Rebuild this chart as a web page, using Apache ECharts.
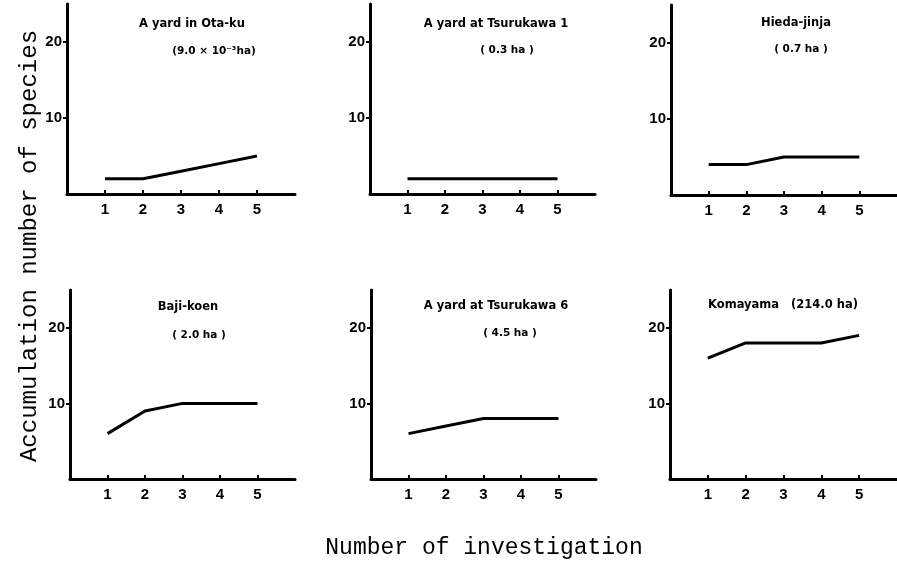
<!DOCTYPE html>
<html>
<head>
<meta charset="utf-8">
<script src="https://cdn.jsdelivr.net/npm/echarts@6/dist/echarts.min.js"></script>
<style>html,body{margin:0;padding:0;background:#fff;}#c{width:897px;height:565px;}</style>
</head>
<body>
<div id="c"></div>
<script>
// ---- data ----
const investigations = [1, 2, 3, 4, 5];
const xTickLabels = ['1', '2', '3', '4', '5'];
const yTickValues = [10, 20];
const otaku = [2, 2, 3, 4, 5];
const tsurukawa1 = [2, 2, 2, 2, 2];
const hiedaJinja = [4, 4, 5, 5, 5];
const bajiKoen = [6, 9, 10, 10, 10];
const tsurukawa6 = [6, 7, 8, 8, 8];
const komayama = [16, 18, 18, 18, 19];
const panelNames = ['A yard in Ota-ku', 'A yard at Tsurukawa 1', 'Hieda-jinja', 'Baji-koen', 'A yard at Tsurukawa 6', 'Komayama   (214.0 ha)'];
const panelAreas = ['(9.0 × 10⁻³ha)', '( 0.3 ha )', '( 0.7 ha )', '( 2.0 ha )', '( 4.5 ha )', ''];
const seriesList = [otaku, tsurukawa1, hiedaJinja, bajiKoen, tsurukawa6, komayama];

// ---- layout ----
const grids = [
  {left: 67, top: 4, width: 228, height: 190},
  {left: 370, top: 4, width: 225, height: 190},
  {left: 671, top: 5, width: 229, height: 190},
  {left: 70, top: 290, width: 225, height: 189},
  {left: 371, top: 290, width: 225, height: 189},
  {left: 670, top: 290, width: 228, height: 189}
];
const titlePos = [
  [[192, 24], [214, 51]],
  [[496, 24], [507, 50]],
  [[796, 23], [801, 49]],
  [[188, 307], [199, 335]],
  [[496, 306], [510, 333]],
  [[783, 305], [0, 0]]
];

const xAxes = [], yAxes = [], series = [], graphics = [];
grids.forEach((g, i) => {
  xAxes.push({
    type: 'value', gridIndex: i, min: 0, max: 6, interval: 1,
    axisLine: {show: true, onZero: false, lineStyle: {color: '#000', width: 3}},
    axisTick: {show: true, inside: true, length: 4, lineStyle: {color: '#000', width: 2}, customValues: investigations},
    axisLabel: {show: true, margin: 8, color: '#000', fontFamily: 'Liberation Sans', fontWeight: 'bold', fontSize: 15,
      customValues: investigations,
      formatter: v => { const k = investigations.indexOf(v); return k >= 0 ? xTickLabels[k] : ''; }},
    splitLine: {show: false}
  });
  yAxes.push({
    type: 'value', gridIndex: i, min: 0, max: 25, interval: 10,
    axisLine: {show: true, onZero: false, lineStyle: {color: '#000', width: 3}},
    axisTick: {show: true, inside: false, length: 4, lineStyle: {color: '#000', width: 2}, customValues: yTickValues},
    axisLabel: {show: true, margin: 5, color: '#000', fontFamily: 'Liberation Sans', fontWeight: 'bold', fontSize: 15,
      customValues: yTickValues,
      formatter: v => (yTickValues.indexOf(v) >= 0 ? String(v) : '')},
    splitLine: {show: false}
  });
  series.push({
    type: 'line', xAxisIndex: i, yAxisIndex: i,
    data: investigations.map((x, k) => [x, seriesList[i][k]]),
    showSymbol: false, symbol: 'none',
    lineStyle: {color: '#000', width: 3}, animation: false
  });
  graphics.push({
    type: 'text', x: titlePos[i][0][0], y: titlePos[i][0][1],
    style: {text: panelNames[i], align: 'center', verticalAlign: 'middle', fill: '#000',
      font: 'bold 11.5px "DejaVu Sans"'}
  });
  if (panelAreas[i]) {
    graphics.push({
      type: 'text', x: titlePos[i][1][0], y: titlePos[i][1][1],
      style: {text: panelAreas[i], align: 'center', verticalAlign: 'middle', fill: '#000',
        font: 'bold 10.5px "DejaVu Sans"'}
    });
  }
});

graphics.push({
  type: 'text', x: 30, y: 246, rotation: Math.PI / 2,
  style: {text: 'Accumulation number of species', align: 'center', verticalAlign: 'middle', fill: '#000',
    font: '24px "Liberation Mono"'}
});
graphics.push({
  type: 'text', x: 484, y: 548,
  style: {text: 'Number of investigation', align: 'center', verticalAlign: 'middle', fill: '#000',
    font: '23px "Liberation Mono"'}
});

const chart = echarts.init(document.getElementById('c'), null, {renderer: 'canvas'});
chart.setOption({
  backgroundColor: '#fff',
  animation: false,
  grid: grids.map(g => Object.assign({containLabel: false}, g)),
  xAxis: xAxes,
  yAxis: yAxes,
  series: series,
  graphic: graphics
});
</script>
</body>
</html>
